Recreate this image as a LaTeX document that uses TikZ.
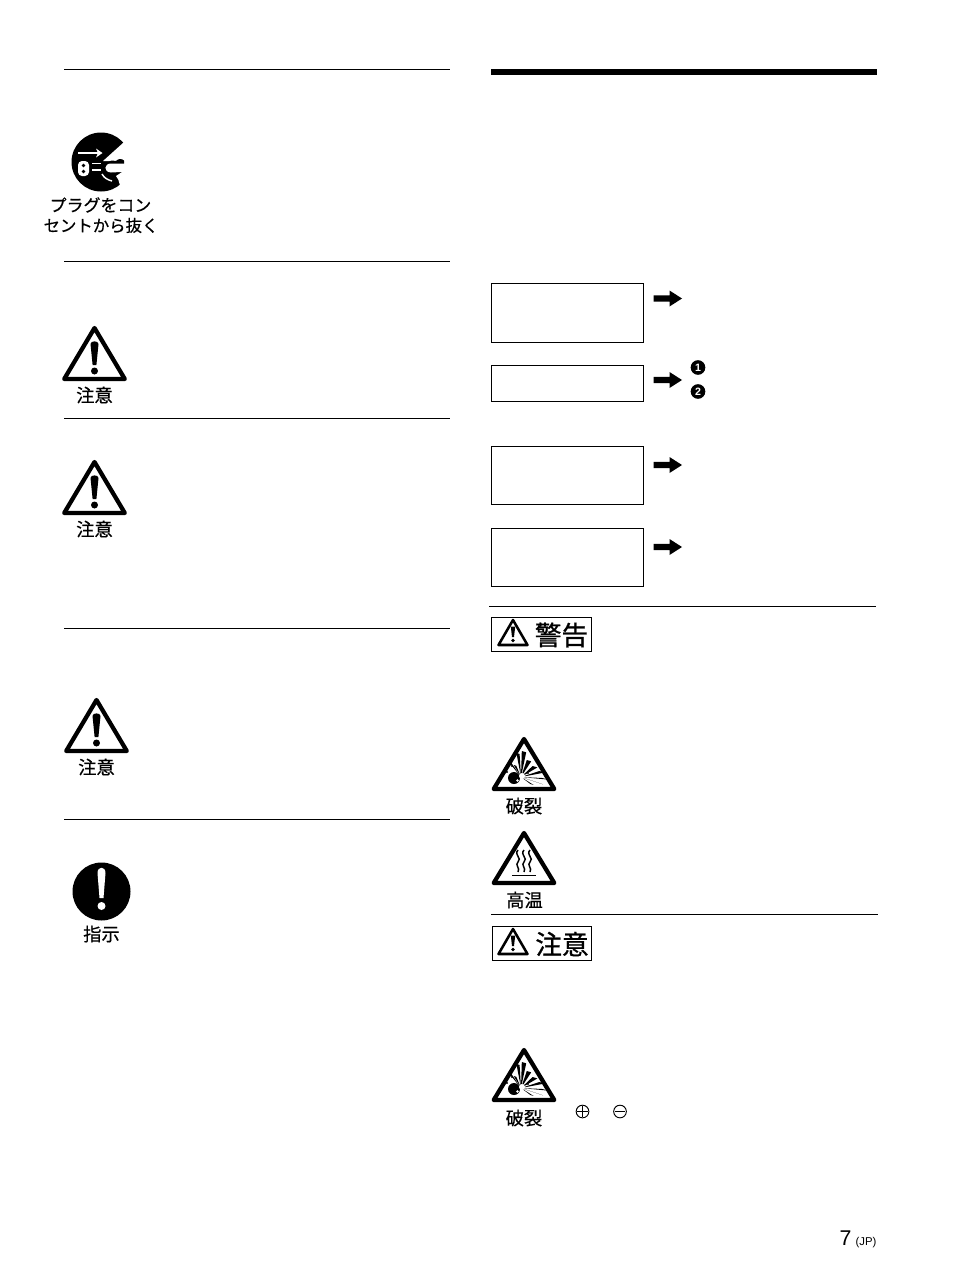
\documentclass[tikz,border=0pt]{standalone}
\usepackage{fontspec}
\setmainfont{Liberation Sans}
\newfontfamily\jp[FakeBold=0.5]{Noto Sans CJK JP}
\newfontfamily\jpheavy[FakeBold=0.8]{Noto Sans CJK JP}
\tikzset{
  rule/.style={line width=0.75pt,black},
  labelbox/.style={draw=black,line width=0.75pt,fill=white},
  jplabel/.style={font=\jp\fontsize{13.7pt}{15pt}\selectfont,inner sep=0pt,anchor=center},
  jpsmall/.style={font=\jp\fontsize{12.3pt}{15pt}\selectfont,inner sep=0pt,anchor=center},
  jpwide/.style={font=\jp\fontsize{12.7pt}{15pt}\selectfont,inner sep=0pt,anchor=center},
  jpbig/.style={font=\jpheavy\fontsize{20pt}{22pt}\selectfont,inner sep=0pt,anchor=center},
  tri/.style={draw=black,fill=white,line width=3.2pt,line join=round},
  bang/.pic={
    \fill[black] (-4,19) .. controls (-4,15.5) and (4,15.5) .. (4,19) -- (1.9,40) -- (-1.9,40) -- cycle;
    \fill[black] (0,46) circle (3.5);
  },
  warntri/.pic={
    \draw[tri] (0,3) -- (30.3,54) -- (-30.3,54) -- cycle;
    \pic at (0,0) {bang};
  },
  blasttri/.pic={
    \draw[tri] (0,3) -- (30.3,53) -- (-30.3,53) -- cycle;
    \fill[black] (-10,42) circle (6);
    \fill[white] (-6.5,44.5) circle (1.4);
    \foreach \ex/\ey/\w in {-6/17/1.6,0/15/2.2,5/24/2.2,11/30/2.4,18/35/2.6,21/42/2.6,17/47/2.2,8/48/1.6,-14/26/1.3,-9/29/1.3}{
      \fill[black] (-3,41) -- (\ex-\w,\ey) -- (\ex+\w,\ey+\w*0.6) -- cycle;
    }
    \fill[white] (-2,40) circle (3);
    \fill[black] (-12,30) circle (1.2); \fill[black] (-17,36) circle (1.1); \fill[black] (4,37) circle (1);
  },
  heattri/.pic={
    \draw[tri] (0,3) -- (30.3,53) -- (-30.3,53) -- cycle;
    \foreach \dx in {-6,0,6}{
      \draw[black,line width=1.1pt] (\dx,20) .. controls (\dx-4.5,25) and (\dx+4.5,28) .. (\dx,32) .. controls (\dx-3.5,35) and (\dx+2.5,38) .. (\dx,42);
    }
    \draw[black,line width=1.3pt] (-12,45.5) -- (12,45.5);
  },
  goarrow/.pic={
    \fill[black] (0,-3.2) -- (16,-3.2) -- (16,-8) -- (28.5,0) -- (16,8) -- (16,3.2) -- (0,3.2) -- cycle;
  },
  smalltri/.pic={
    \draw[draw=black,fill=white,line width=1.9pt,line join=round] (0,0) -- (14.5,25) -- (-14.5,25) -- cycle;
    \fill[black] (-2.2,6.5) -- (2.2,6.5) -- (1,17) -- (-1,17) -- cycle;
    \fill[black] (0,20.5) circle (1.8);
  },
  terminal/.style={circle,draw=black,line width=0.7pt,minimum size=9.5pt,inner sep=0pt}
}
\begin{document}
\begin{tikzpicture}[x=0.75pt,y=-0.75pt]
\useasboundingbox (0,0) rectangle (954,1274);
\fill[white] (0,0) rectangle (954,1274);

% rules, left column
\foreach \ypos in {69.5,261.5,418.5,628.5,819.5}{\draw[rule] (64,\ypos) -- (450,\ypos);}
% rules, right column
\fill[black] (491,69) rectangle (877,75);
\draw[rule] (489,606.5) -- (876,606.5);
\draw[rule] (491,914.5) -- (878,914.5);

% plug icon
\fill[black] (101,162) circle (29.5);
\fill[white] (134,138) -- (123,143) -- (103,161) -- (134,161) -- cycle;
\fill[white] (78,152) rectangle (100,154);
\fill[white] (96,148.5) -- (102.5,153) -- (96,157.5) -- (98,153) -- cycle;
\fill[white,rounded corners=3pt] (78,161) rectangle (89,176);
\fill[black] (83.5,165.5) circle (1.8);
\fill[black] (83.5,171.5) circle (1.8);
\draw[white,line width=1.1pt] (92,163.5) -- (101,163.5);
\draw[white,line width=1.1pt] (92,170) -- (101,170);
% hand
\fill[white] (134,160) rectangle (124,165);
\fill[black] (108,163) .. controls (110,160) and (113,160) .. (116,161) .. controls (118,158.5) and (122,158.5) .. (124,160.5) -- (124,164) -- (108,164) -- cycle;
\fill[white] (134,163.5) -- (111,163.5) .. controls (104,163.5) and (103,172) .. (111,172.5) .. controls (114,173) and (116,172) .. (118,172) -- (134,172) -- cycle;
\fill[white] (122,172) -- (134,172) -- (134,196) -- (122,196) .. controls (120,188) and (120,180) .. (116,176) -- cycle;
\draw[white,line width=1.1pt] (102,174) .. controls (104,178) and (108,180) .. (112,181);
\node[jpwide] (plugA) at (100.5,205) {プラグをコン};
\node[jpsmall] (plugB) at (101,225.5) {セントから抜く};

% caution triangles, left
\pic at (94.5,325) {warntri};
\node[jplabel] (cautA) at (94.5,395) {注意};
\pic at (94.5,459) {warntri};
\node[jplabel] (cautB) at (94.5,529) {注意};
\pic at (96.5,697) {warntri};
\node[jplabel] (cautC) at (96.5,767) {注意};

% instruction icon
\fill[black] (101.5,891.5) circle (29);
\fill[white] (97.5,873) .. controls (97.5,866) and (105.5,866) .. (105.5,873) -- (103.5,898) -- (99.5,898) -- cycle;
\fill[white] (101.5,906) circle (4);
\node[jplabel] (instr) at (101.5,934) {指示};

% right column boxes
\node[labelbox,minimum width=114.5pt,minimum height=44.5pt,inner sep=0pt] (boxA) at (567.5,313) {};
\node[labelbox,minimum width=114.5pt,minimum height=27.5pt,inner sep=0pt] (boxB) at (567.5,383.5) {};
\node[labelbox,minimum width=114.5pt,minimum height=44pt,inner sep=0pt] (boxC) at (567.5,475.5) {};
\node[labelbox,minimum width=114.5pt,minimum height=44pt,inner sep=0pt] (boxD) at (567.5,557.5) {};
\pic at (653.5,298.5) {goarrow};
\pic at (653.5,380) {goarrow};
\pic at (653.5,465) {goarrow};
\pic at (653.5,547) {goarrow};
\node[circle,fill=black,text=white,font=\bfseries\fontsize{8pt}{8pt}\selectfont,minimum size=11pt,inner sep=0pt] (numA) at (698,367.5) {1};
\node[circle,fill=black,text=white,font=\bfseries\fontsize{8pt}{8pt}\selectfont,minimum size=11pt,inner sep=0pt] (numB) at (698,391.5) {2};

% warning banner
\node[labelbox,minimum width=75pt,minimum height=25.5pt,inner sep=0pt] (warnbox) at (541.5,634.5) {};
\pic at (513,620) {smalltri};
\node[jpbig] (warntxt) at (561.5,635) {警告};
\pic at (524,736) {blasttri};
\node[jplabel] (blastA) at (524,806) {破裂};
\pic at (524,830) {heattri};
\node[jplabel] (hot) at (524.5,900) {高温};

% caution banner
\node[labelbox,minimum width=74.5pt,minimum height=25.5pt,inner sep=0pt] (cautbox) at (542,943.5) {};
\pic at (513,929) {smalltri};
\node[jpbig] (cauttxt) at (562,944) {注意};
\pic at (524,1047) {blasttri};
\node[jplabel] (blastB) at (524,1118) {破裂};

% terminals
\node[terminal] (plus) at (582.5,1111.5) {};
\draw[black,line width=0.7pt] ([xshift=-4]plus.center) -- ([xshift=4]plus.center) ([yshift=-4]plus.center) -- ([yshift=4]plus.center);
\node[terminal] (minus) at (620,1111.5) {};
\draw[black,line width=0.7pt] ([xshift=-4]minus.center) -- ([xshift=4]minus.center);

% page number
\node[font=\fontsize{16pt}{16pt}\selectfont,inner sep=0pt,anchor=base] (pg) at (845.5,1245) {7};
\node[font=\fontsize{8.5pt}{9pt}\selectfont,inner sep=0pt,anchor=base] (jpmark) at (866,1245) {(JP)};
\end{tikzpicture}
\end{document}
